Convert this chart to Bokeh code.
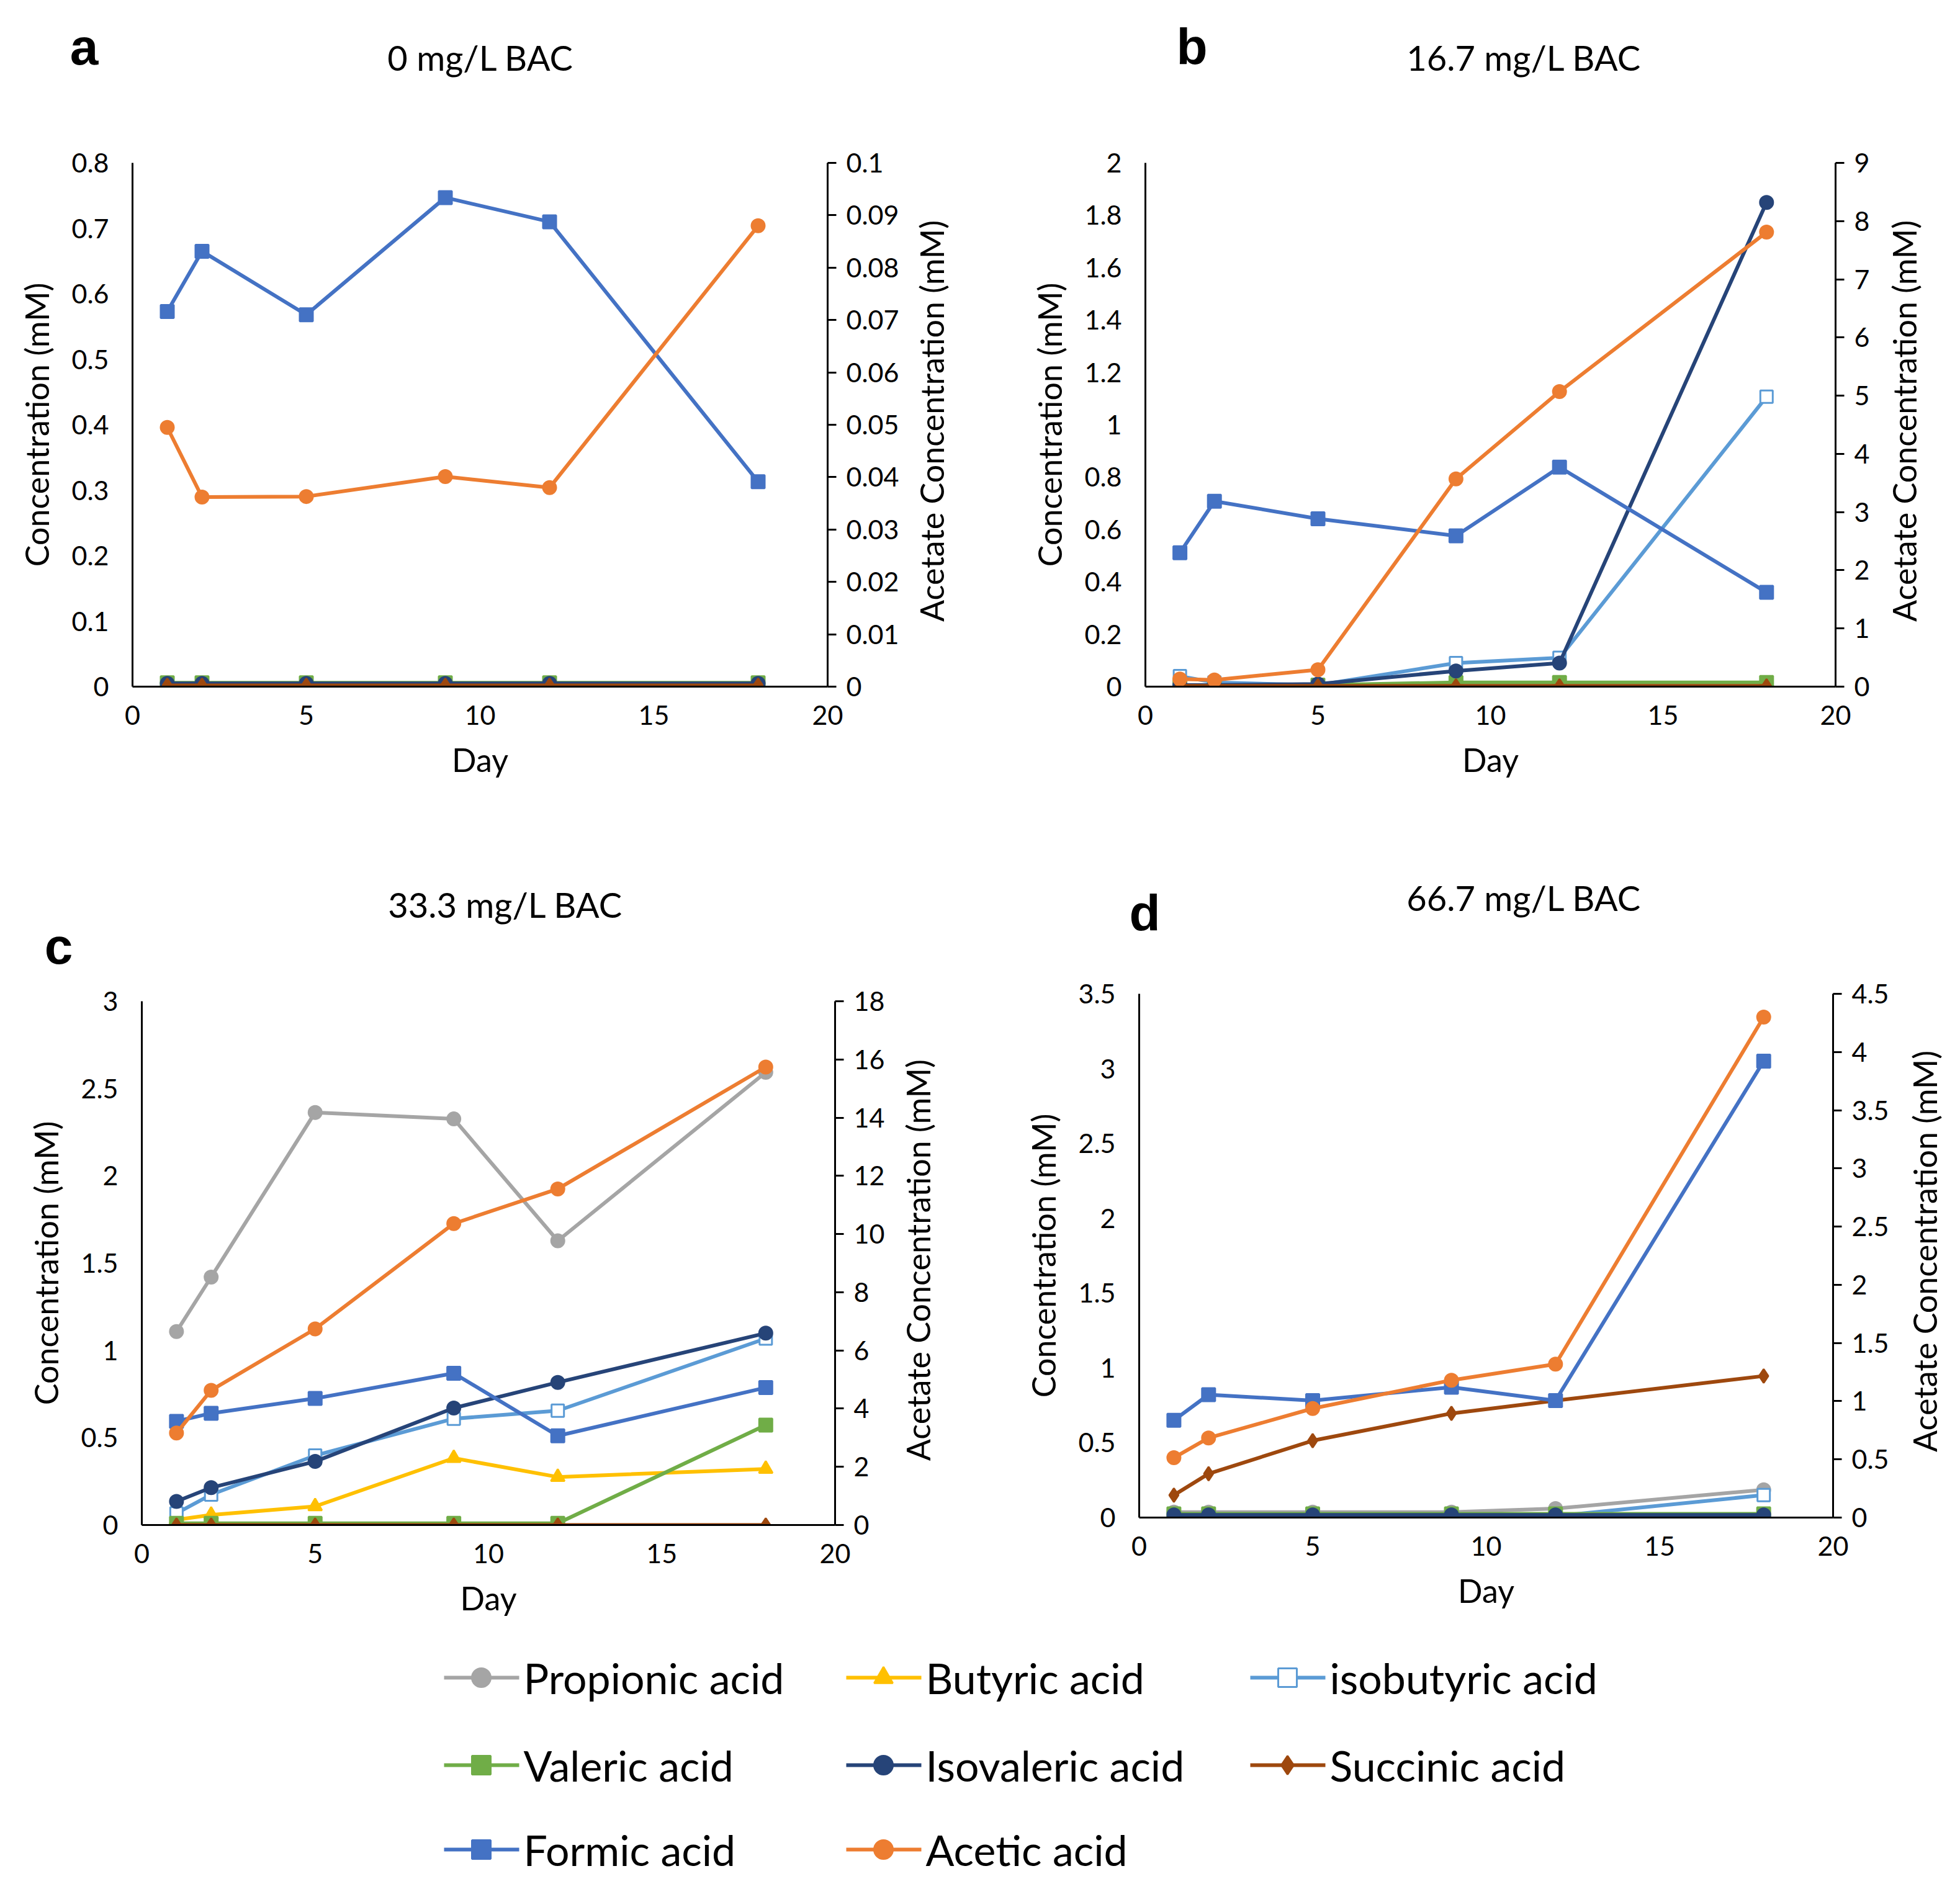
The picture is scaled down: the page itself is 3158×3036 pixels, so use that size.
import math
from bokeh.plotting import figure
from bokeh.models import Range1d, LinearAxis, FixedTicker, CustomJSTickFormatter
from bokeh.layouts import column, row
from bokeh.embed import file_html
from bokeh.resources import INLINE
from bokeh.core.properties import value

FONT = "Lato"

# ---------------- data ----------------
days = [1, 2, 5, 9, 12, 18]
x_ticks = [0, 5, 10, 15, 20]
x_labels = ["0", "5", "10", "15", "20"]

names = ["Propionic acid", "Butyric acid", "isobutyric acid", "Valeric acid",
         "Isovaleric acid", "Succinic acid", "Formic acid", "Acetic acid"]
panel_letters = ["a", "b", "c", "d"]
panel_titles = ["0 mg/L BAC", "16.7 mg/L BAC", "33.3 mg/L BAC", "66.7 mg/L BAC"]
x_title = "Day"
left_title = "Concentration (mM)"
right_title = "Acetate Concentration (mM)"

# panel a : 0 mg/L BAC
a_propionic = [0.004, 0.004, 0.004, 0.004, 0.004, 0.004]
a_butyric = [0.0, 0.0, 0.0, 0.0, 0.0, 0.0]
a_isobutyric = [0.005, 0.005, 0.005, 0.005, 0.005, 0.005]
a_valeric = [0.006, 0.006, 0.006, 0.006, 0.006, 0.006]
a_isovaleric = [0.005, 0.005, 0.005, 0.005, 0.005, 0.005]
a_succinic = [0.002, 0.002, 0.002, 0.002, 0.002, 0.002]
a_formic = [0.573, 0.665, 0.568, 0.747, 0.710, 0.313]
a_acetic = [0.0495, 0.0362, 0.0363, 0.0401, 0.0380, 0.0880]
a_left_ticks = [0, 0.1, 0.2, 0.3, 0.4, 0.5, 0.6, 0.7, 0.8]
a_left_labels = ["0", "0.1", "0.2", "0.3", "0.4", "0.5", "0.6", "0.7", "0.8"]
a_right_ticks = [0, 0.01, 0.02, 0.03, 0.04, 0.05, 0.06, 0.07, 0.08, 0.09, 0.1]
a_right_labels = ["0", "0.01", "0.02", "0.03", "0.04", "0.05", "0.06", "0.07", "0.08", "0.09", "0.1"]

# panel b : 16.7 mg/L BAC
b_propionic = [0.0, 0.0, 0.0, 0.0, 0.0, 0.0]
b_butyric = [0.0, 0.0, 0.0, 0.0, 0.0, 0.0]
b_isobutyric = [0.04, 0.016, 0.006, 0.09, 0.11, 1.107]
b_valeric = [0.006, 0.006, 0.006, 0.016, 0.016, 0.016]
b_isovaleric = [0.006, 0.006, 0.01, 0.06, 0.09, 1.849]
b_succinic = [0.003, 0.003, 0.003, 0.003, 0.003, 0.003]
b_formic = [0.511, 0.708, 0.641, 0.576, 0.838, 0.360]
b_acetic = [0.13, 0.115, 0.29, 3.57, 5.07, 7.81]
b_left_ticks = [0, 0.2, 0.4, 0.6, 0.8, 1, 1.2, 1.4, 1.6, 1.8, 2]
b_left_labels = ["0", "0.2", "0.4", "0.6", "0.8", "1", "1.2", "1.4", "1.6", "1.8", "2"]
b_right_ticks = [0, 1, 2, 3, 4, 5, 6, 7, 8, 9]
b_right_labels = ["0", "1", "2", "3", "4", "5", "6", "7", "8", "9"]

# panel c : 33.3 mg/L BAC
c_propionic = [1.108, 1.420, 2.363, 2.326, 1.628, 2.593]
c_butyric = [0.03, 0.058, 0.107, 0.383, 0.275, 0.321]
c_isobutyric = [0.067, 0.174, 0.398, 0.609, 0.655, 1.068]
c_valeric = [0.01, 0.01, 0.01, 0.01, 0.01, 0.572]
c_isovaleric = [0.135, 0.214, 0.364, 0.670, 0.817, 1.099]
c_succinic = [0.0, 0.0, 0.0, 0.0, 0.0, 0.0]
c_formic = [0.594, 0.640, 0.725, 0.869, 0.511, 0.787]
c_acetic = [3.16, 4.63, 6.74, 10.36, 11.55, 15.74]
c_left_ticks = [0, 0.5, 1, 1.5, 2, 2.5, 3]
c_left_labels = ["0", "0.5", "1", "1.5", "2", "2.5", "3"]
c_right_ticks = [0, 2, 4, 6, 8, 10, 12, 14, 16, 18]
c_right_labels = ["0", "2", "4", "6", "8", "10", "12", "14", "16", "18"]

# panel d : 66.7 mg/L BAC
d_propionic = [0.036, 0.036, 0.036, 0.036, 0.06, 0.186]
d_butyric = [0.0, 0.0, 0.0, 0.0, 0.0, 0.0]
d_isobutyric = [0.01, 0.01, 0.01, 0.01, 0.01, 0.15]
d_valeric = [0.025, 0.025, 0.025, 0.025, 0.025, 0.025]
d_isovaleric = [0.018, 0.018, 0.018, 0.018, 0.018, 0.018]
d_succinic = [0.15, 0.293, 0.514, 0.696, 0.782, 0.946]
d_formic = [0.650, 0.821, 0.782, 0.871, 0.782, 3.05]
d_acetic = [0.514, 0.684, 0.937, 1.18, 1.318, 4.30]
d_left_ticks = [0, 0.5, 1, 1.5, 2, 2.5, 3, 3.5]
d_left_labels = ["0", "0.5", "1", "1.5", "2", "2.5", "3", "3.5"]
d_right_ticks = [0, 0.5, 1, 1.5, 2, 2.5, 3, 3.5, 4, 4.5]
d_right_labels = ["0", "0.5", "1", "1.5", "2", "2.5", "3", "3.5", "4", "4.5"]

# ---------------- styles ----------------
colors = ["#A5A5A5", "#FFC000", "#5B9BD5", "#70AD47", "#264478", "#9E480E", "#4472C4", "#ED7D31"]
markers = ["circle", "triangle", "square", "square", "circle", "diamond", "square", "circle"]
fills = ["#A5A5A5", "#FFC000", "white", "#70AD47", "#264478", "#9E480E", "#4472C4", "#ED7D31"]
msizes = [21, 22, 20, 21, 21, 22, 21, 21]

W = 1570
FRAME_H = 844
RLAB_SHIFT = 58


def fmt(ticks, labels):
    return CustomJSTickFormatter(args=dict(t=ticks, l=labels), code="""
for (let i = 0; i < t.length; i++) { if (Math.abs(t[i] - tick) < 1e-9) return l[i]; }
return String(tick);""")


def style_axis(ax):
    ax.axis_line_color = "black"
    ax.axis_line_width = 3
    ax.major_tick_line_color = "black"
    ax.major_tick_line_width = 3
    ax.minor_tick_line_color = None
    ax.major_label_text_font = FONT
    ax.major_label_text_font_size = "43px"
    ax.major_label_text_color = "black"
    ax.axis_label_text_font = FONT
    ax.axis_label_text_font_size = "52px"
    ax.axis_label_text_font_style = "normal"
    ax.axis_label_text_color = "black"


def blank(w, h):
    f = figure(width=w, height=h, output_backend="svg", toolbar_location=None, title=None,
               x_range=Range1d(0, w), y_range=Range1d(0, h), min_border=0,
               x_axis_type=None, y_axis_type=None)
    f.outline_line_color = None
    return f


def header(H, idx, letter_xy, title_xy):
    h = blank(W, H)
    h.text([letter_xy[0]], [letter_xy[1]], text=[panel_letters[idx]],
           text_font=value("Liberation Sans"), text_font_style="bold", text_font_size="82px",
           text_align="center", text_baseline="middle", text_color="black")
    h.text([title_xy[0]], [title_xy[1]], text=[panel_titles[idx]],
           text_font=value(FONT), text_font_size="56px",
           text_align="center", text_baseline="middle", text_color="black")
    return h


def right_label(w, h, cx, bb):
    f = blank(w, h)
    f.text([cx], [bb + FRAME_H / 2 - RLAB_SHIFT], text=[right_title], angle=math.pi / 2,
           text_font=value(FONT), text_font_size="52px",
           text_align="center", text_baseline="middle", text_color="black")
    return f


def panel(series, lt, ll, rt, rl, Wp, H, bl, br, bt, bb):
    p = figure(width=Wp, height=H, output_backend="svg", toolbar_location=None, title=None,
               x_range=Range1d(0, 20), y_range=Range1d(0, lt[-1]),
               min_border_left=bl, min_border_right=br, min_border_top=bt, min_border_bottom=bb,
               x_axis_type=None, y_axis_type=None)
    p.outline_line_color = None
    p.extra_y_ranges = {"acet": Range1d(0, rt[-1])}

    xa = LinearAxis(ticker=FixedTicker(ticks=x_ticks), formatter=fmt(x_ticks, x_labels), axis_label=x_title)
    style_axis(xa)
    xa.major_tick_out = 0
    xa.major_tick_in = 0
    xa.major_label_standoff = 30
    xa.axis_label_standoff = 22
    p.add_layout(xa, "below")

    ya = LinearAxis(ticker=FixedTicker(ticks=lt), formatter=fmt(lt, ll), axis_label=left_title)
    style_axis(ya)
    ya.major_tick_out = 0
    ya.major_tick_in = 0
    ya.major_label_standoff = 38
    ya.axis_label_standoff = 22
    p.add_layout(ya, "left")

    ra = LinearAxis(y_range_name="acet", ticker=FixedTicker(ticks=rt), formatter=fmt(rt, rl))
    style_axis(ra)
    ra.major_tick_out = 14
    ra.major_tick_in = 0
    ra.major_label_standoff = 16
    p.add_layout(ra, "right")

    for i, ys in enumerate(series):
        kw = {"y_range_name": "acet"} if i == 7 else {}
        p.line(days, ys, line_color=colors[i], line_width=6, **kw)
        p.scatter(days, ys, marker=markers[i], size=msizes[i], fill_color=fills[i],
                  line_color=colors[i], line_width=3, **kw)
    return p


def block(hdr_H, idx, letter_xy, title_xy, series, lt, ll, rt, rl, H, bl, frame_r, bt, bb, lab_x0, lab_cx):
    p = panel(series, lt, ll, rt, rl, lab_x0, H, bl, lab_x0 - frame_r, bt, bb)
    lab = right_label(W - lab_x0, H, lab_cx - lab_x0, bb)
    return column(header(hdr_H, idx, letter_xy, title_xy), row(p, lab))


pa = block(200, 0, (135, 125), (774, 108),
           [a_propionic, a_butyric, a_isobutyric, a_valeric, a_isovaleric, a_succinic, a_formic, a_acetic],
           a_left_ticks, a_left_labels, a_right_ticks, a_right_labels,
           1100, 213, 1333, 62, 194, 1465, 1500)
pb = block(200, 1, (350, 126), (885, 108),
           [b_propionic, b_butyric, b_isobutyric, b_valeric, b_isovaleric, b_succinic, b_formic, b_acetic],
           b_left_ticks, b_left_labels, b_right_ticks, b_right_labels,
           1100, 275, 1387, 62, 194, 1450, 1497)
pc = block(278, 2, (94, 54), (814, 121),
           [c_propionic, c_butyric, c_isobutyric, c_valeric, c_isovaleric, c_succinic, c_formic, c_acetic],
           c_left_ticks, c_left_labels, c_right_ticks, c_right_labels,
           1042, 228, 1345, 35, 163, 1440, 1478)
pd_ = block(260, 3, (274, 90), (885, 114),
            [d_propionic, d_butyric, d_isobutyric, d_valeric, d_isovaleric, d_succinic, d_formic, d_acetic],
            d_left_ticks, d_left_labels, d_right_ticks, d_right_labels,
            1060, 265, 1383, 41, 175, 1480, 1530)

# ---------------- legend ----------------
LW, LH = 2 * W, 400
lg = blank(LW, LH)
col_x = [715, 1363, 2014]
row_y = [317, 176, 40]
for i, nm in enumerate(names):
    cx = col_x[i % 3]
    cy = row_y[i // 3]
    lg.line([cx, cx + 121], [cy, cy], line_color=colors[i], line_width=6)
    lg.scatter([cx + 60], [cy], marker=markers[i], size=30, fill_color=fills[i],
               line_color=colors[i], line_width=3)
    lg.text([cx + 128], [cy], text=[nm], text_font=value(FONT), text_font_size="68px",
            text_baseline="middle", text_align="left", text_color="black")

layout = column(row(pa, pb), row(pc, pd_), lg)
open("out.html", "w").write(file_html(layout, INLINE))
